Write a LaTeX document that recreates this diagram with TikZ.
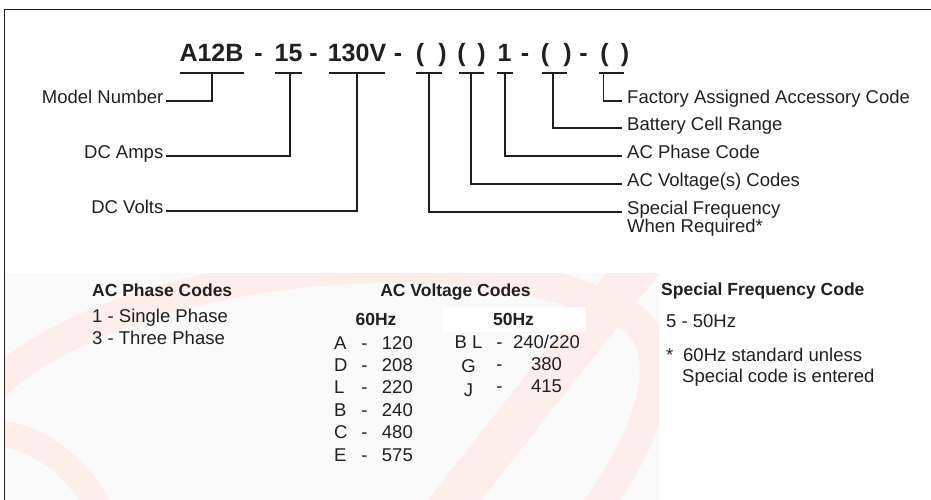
\documentclass[tikz,border=0pt]{standalone}
\usepackage{fontspec}
\setmainfont{Liberation Sans}
\usetikzlibrary{positioning}

\definecolor{ink}{RGB}{35,31,32}
\definecolor{paper}{RGB}{250,250,250}
\definecolor{wmpink}{RGB}{253,238,235}

\begin{document}
\begin{tikzpicture}[x=1pt, y=-1pt,
  code/.style={font=\fontsize{25}{30}\selectfont\bfseries, text=ink, inner sep=0pt, anchor=base},
  lbl/.style={font=\fontsize{18.5}{22}\selectfont, text=ink, inner sep=0pt},
  head/.style={font=\fontsize{17.5}{21}\selectfont\bfseries, text=ink, inner sep=0pt, anchor=base},
  bar/.style={draw=ink, line width=1.3pt},
  conn/.style={draw=ink, line width=1.3pt},
  wm/.style={draw=wmpink, line cap=butt},
]
\useasboundingbox (0,0) rectangle (931,500);

% Shaded lower panel with faint logo
\fill[paper] (5,273) rectangle (659,500);
\begin{scope}
  \clip (5,273) rectangle (659,500);
  \draw[wm, line width=30pt] (-20,400) .. controls (100,265) and (480,225) .. (635,320)
    .. controls (680,360) and (640,450) .. (595,510);
  \draw[wm, line width=26pt] (-10,432) .. controls (40,435) and (80,470) .. (100,510);
  \draw[wm, line width=42pt] (445,512) -- (645,258);
\end{scope}
\fill[white] (442,307) rectangle (586,332);

% Frame
\draw[ink, line width=1.5pt] (4.5,500) -- (4.5,9.5) -- (931,9.5);

% Model code
\foreach \x/\t [count=\i] in {211.5/A12B, 258.5/{-}, 288.5/15, 313.5/{-}, 357/130V, 398/{-},
    420/{(}, 442.5/{)}, 461.5/{(}, 481.5/{)}, 504.5/1, 525/{-}, 545/{(}, 567.5/{)},
    583.5/{-}, 604.5/{(}, 625/{)}}
  \node[code] (c\i) at (\x,62) {\t};

% Bars under each field
\foreach \a/\b/\v [count=\i] in {180/244/212, 275/302/290, 329/385/357, 416/442/429,
    459/484/471, 497/513/505, 542/567/553, 599/624/603.5}{
  \draw[bar] (\a,73) -- (\b,73);
  \coordinate (b\i) at (\v,73);
}

% Left labels
\node[lbl, anchor=base east] (model) at (163.5,103.5) {Model Number};
\node[lbl, anchor=base east] (amps) at (163.5,158.5) {DC Amps};
\node[lbl, anchor=base east] (volts) at (163.5,213.5) {DC Volts};
\draw[conn] ([shift={(2.5pt,2.6pt)}]model.base east) -| (b1);
\draw[conn] ([shift={(2.5pt,2.6pt)}]amps.base east) -| (b2);
\draw[conn] ([shift={(2.5pt,2.6pt)}]volts.base east) -| (b3);

% Right labels
\node[lbl, anchor=base west] (acc) at (627,103.5) {Factory Assigned Accessory Code};
\node[lbl, anchor=base west] (cell) at (627,130.6) {Battery Cell Range};
\node[lbl, anchor=base west] (phase) at (627,158.6) {AC Phase Code};
\node[lbl, anchor=base west] (volt) at (627,186.6) {AC Voltage(s) Codes};
\node[lbl, anchor=base west] (freq) at (627,214) {Special Frequency};
\node[lbl, anchor=base west] (freq2) at (627,232.3) {When Required*};
\draw[conn] (b8) |- ([shift={(-5pt,2.6pt)}]acc.base west);
\draw[conn] (b7) |- ([shift={(-5pt,2.6pt)}]cell.base west);
\draw[conn] (b6) |- ([shift={(-5pt,2.6pt)}]phase.base west);
\draw[conn] (b5) |- ([shift={(-5pt,2.6pt)}]volt.base west);
\draw[conn] (b4) |- ([shift={(-5pt,2pt)}]freq.base west);

% AC phase codes
\node[head, anchor=base west] (phh) at (92,296) {AC Phase Codes};
\node[lbl, anchor=base west] (ph1) at (92,322) {1 - Single Phase};
\node[lbl, anchor=base west] (ph3) at (92,344) {3 - Three Phase};

% AC voltage codes
\node[head] (vh) at (455.5,296) {AC Voltage Codes};
\node[head] (hz60) at (376,325) {60Hz};
\node[head] (hz50) at (513.5,325) {50Hz};
\foreach \l/\n [count=\i] in {A/120, D/208, L/220, B/240, C/480, E/575}{
  \pgfmathsetmacro\y{349+22.4*(\i-1)}
  \node[lbl, anchor=base west] (l\i) at (334,\y) {\l};
  \node[lbl, anchor=base] (d\i) at (364.5,\y) {-};
  \node[lbl, anchor=base east] (v\i) at (413,\y) {\n};
}
\foreach \l/\n/\s [count=\i] in {B L/{240/220}/0, G/380/2, J/415/4}{
  \pgfmathsetmacro\y{348+22*(\i-1)}
  \node[lbl, anchor=base] (fl\i) at (468.5,\y+\s) {\l};
  \node[lbl, anchor=base] (fd\i) at (499.5,\y) {-};
  \node[lbl, anchor=base] (fv\i) at (546.5,\y) {\n};
}

% Special frequency code
\node[head, anchor=base west] (sfh) at (661,295) {Special Frequency Code};
\node[lbl, anchor=base west] (sf5) at (666,327) {5 - 50Hz};
\node[lbl, anchor=base west] (star) at (666,361) {*};
\node[lbl, anchor=base west] (note1) at (683,361) {60Hz standard unless};
\node[lbl, anchor=base west] (note2) at (682,382) {Special code is entered};
\end{tikzpicture}
\end{document}
